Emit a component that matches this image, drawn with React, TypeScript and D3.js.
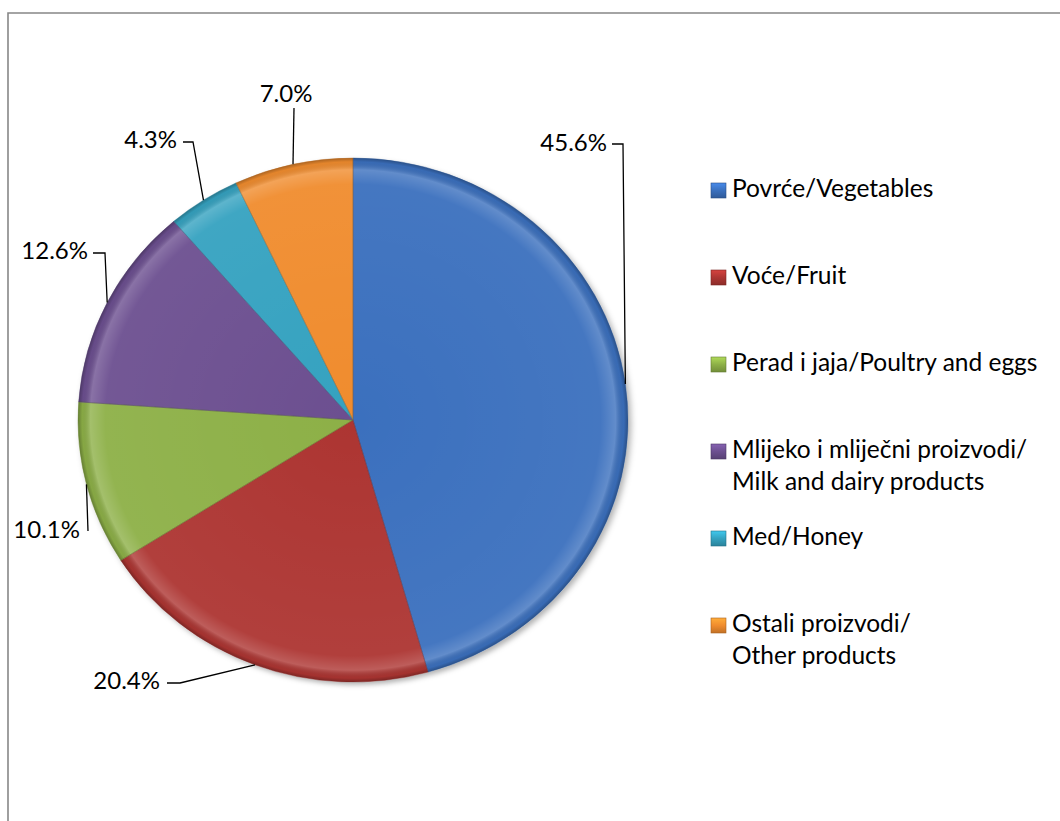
import React from 'react';
import * as d3 from 'd3';

const categories = [
  ['Povrće/Vegetables'],
  ['Voće/Fruit'],
  ['Perad i jaja/Poultry and eggs'],
  ['Mlijeko i mliječni proizvodi/', 'Milk and dairy products'],
  ['Med/Honey'],
  ['Ostali proizvodi/', 'Other products'],
];
const shares = [45.6, 20.4, 10.1, 12.6, 4.3, 7.0];
const colours = ['#3a70be', '#ad3633', '#8db047', '#6c4f90', '#34a2c0', '#f08c2e'];

// label leader start points, relative to pie centre, plus short horizontal run
const labelLayout = [
  { sx: 259, sy: -276, run: 11, anchor: 'end', tdx: -5, tdy: 7 },
  { sx: -186, sy: 263, run: 13, anchor: 'end', tdx: -7, tdy: 6 },
  { sx: -265, sy: 111, run: 0, anchor: 'end', tdx: -8, tdy: 7 },
  { sx: -260, sy: -167, run: 12, anchor: 'end', tdx: -5, tdy: 6 },
  { sx: -170, sy: -278, run: 10, anchor: 'end', tdx: -6, tdy: 6 },
  { sx: -59, sy: -312, run: 0, anchor: 'middle', tdx: -8, tdy: -6 },
];

const W = 1060;
const H = 821;
const cx = 353;
const cy = 420;
const rx = 275;
const ry = 262;
const font = 'Lato, "Open Sans", sans-serif';

const App: React.FC = () => {
  const data = shares.map((v, i) => ({ v, i }));
  const pie = d3.pie<{ v: number; i: number }>().sort(null).value(d => d.v)(data);
  const arc = d3.arc<d3.PieArcDatum<{ v: number; i: number }>>().innerRadius(0).outerRadius(rx);
  const sy = ry / rx;

  const anchorOf = (a: d3.PieArcDatum<any>) => {
    const m = (a.startAngle + a.endAngle) / 2;
    return [cx + rx * Math.sin(m), cy - ry * Math.cos(m)];
  };

  return (
    <svg width={W} height={H} style={{ position: 'absolute', left: 0, top: 0 }}>
      <defs>
        <filter id="shadow" x="-10%" y="-10%" width="130%" height="130%">
          <feDropShadow dx="3" dy="3" stdDeviation="3" floodColor="#000" floodOpacity="0.3" />
        </filter>
        <radialGradient id="shine" gradientUnits="userSpaceOnUse" cx="0" cy="0" r={rx}>
          <stop offset="0" stopColor="#fff" stopOpacity="0" />
          <stop offset="0.9" stopColor="#fff" stopOpacity="0.05" />
          <stop offset="0.955" stopColor="#fff" stopOpacity="0.2" />
          <stop offset="0.985" stopColor="#000" stopOpacity="0.05" />
          <stop offset="1" stopColor="#000" stopOpacity="0.28" />
        </radialGradient>
        {colours.map((c, i) => (
          <linearGradient key={i} id={`lg${i}`} x1="0" y1="0" x2="0" y2="1">
            <stop offset="0" stopColor={d3.color(c)!.brighter(0.6).toString()} />
            <stop offset="0.5" stopColor={c} />
            <stop offset="1" stopColor={d3.color(c)!.darker(0.6).toString()} />
          </linearGradient>
        ))}
      </defs>
      <rect x={0} y={0} width={W} height={H} fill="#fff" />
      <path d={`M8,${H} L8,13 L${W},13`} fill="none" stroke="#878787" strokeWidth={1.6} />

      <g transform={`translate(${cx},${cy}) scale(1,${sy})`} filter="url(#shadow)">
        {pie.map((p, i) => (
          <path key={i} d={arc(p) || ''} fill={colours[i]} />
        ))}
      </g>
      <g transform={`translate(${cx},${cy}) scale(1,${sy})`}>
        {pie.map((p, i) => (
          <path key={i} d={arc(p) || ''} fill="url(#shine)"
            stroke={d3.color(colours[i])!.darker(0.8).toString()} strokeOpacity={0.5}
            strokeWidth={0.8} vectorEffect="non-scaling-stroke" />
        ))}
      </g>

      {pie.map((p, i) => {
        const [ax, ay] = anchorOf(p);
        const L = labelLayout[i];
        const sx0 = cx + L.sx;
        const sy0 = cy + L.sy;
        const ex = sx0 + L.run;
        return (
          <g key={i}>
            <polyline points={`${sx0},${sy0} ${ex},${sy0} ${ax},${ay}`} fill="none" stroke="#000" strokeWidth={1.3} />
            <text x={sx0 + L.tdx} y={sy0 + L.tdy} textAnchor={L.anchor} fontFamily={font} fontSize={24} fill="#000">
              {`${shares[i].toFixed(1)}%`}
            </text>
          </g>
        );
      })}

      {categories.map((lines, i) => {
        const y = 197 + i * 87;
        return (
          <g key={i}>
            <rect x={711} y={y - 14} width={15} height={15} fill={`url(#lg${i})`}
              stroke={d3.color(colours[i])!.darker(1).toString()} strokeWidth={0.6} />
            <text x={732} y={y} fontFamily={font} fontSize={24.5} fill="#000">
              {lines.map((t, j) => (
                <tspan key={j} x={732} dy={j === 0 ? 0 : 32}>{t}</tspan>
              ))}
            </text>
          </g>
        );
      })}
    </svg>
  );
};

export default App;
